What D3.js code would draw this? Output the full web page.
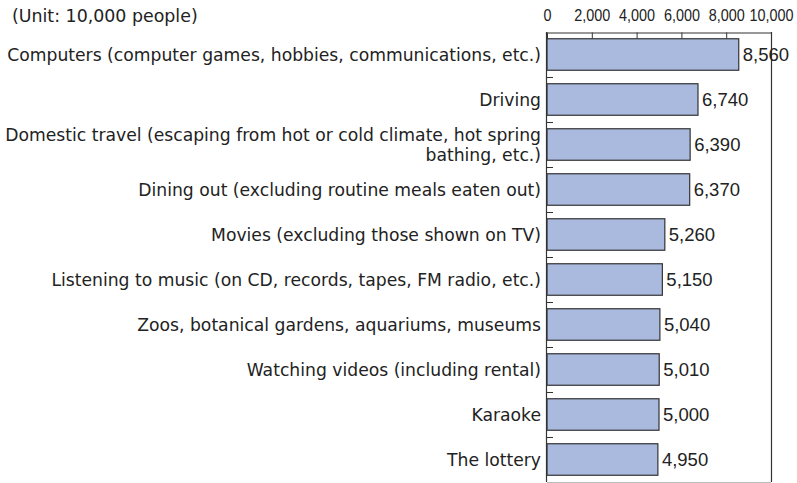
<!DOCTYPE html>
<html>
<head>
<meta charset="utf-8">
<script src="https://cdn.jsdelivr.net/npm/d3@7"></script>
<style>
  body { margin: 0; background: #fff; }
  svg { display: block; font-family: "Liberation Sans", Arial, sans-serif; }
</style>
</head>
<body>
<svg id="chart"></svg>
<script>
// categories (line breaks marked with |)
const categories = [
  "Computers (computer games, hobbies, communications, etc.)",
  "Driving",
  "Domestic travel (escaping from hot or cold climate, hot spring|bathing, etc.)",
  "Dining out (excluding routine meals eaten out)",
  "Movies (excluding those shown on TV)",
  "Listening to music (on CD, records, tapes, FM radio, etc.)",
  "Zoos, botanical gardens, aquariums, museums",
  "Watching videos (including rental)",
  "Karaoke",
  "The lottery"
]
const values = [8560, 6740, 6390, 6370, 5260, 5150, 5040, 5010, 5000, 4950]
const tickValues = [0, 2000, 4000, 6000, 8000, 10000]
const unitLabel = "(Unit: 10,000 people)"

const width = 797, height = 483
const margin = { top: 32, right: 26, bottom: 1, left: 547 }

const svg = d3.select("#chart").attr("width", width).attr("height", height)

const x = d3.scaleLinear()
  .domain([0, 10000])
  .range([margin.left, width - margin.right])

const y = d3.scaleBand()
  .domain(categories)
  .range([margin.top, height - margin.bottom])
  .paddingInner(0.3)
  .paddingOuter(0.15)

const fmt = d3.format(",")
const labelFont = "'DejaVu Sans', Verdana, sans-serif"

svg.append("text")
  .attr("x", 12)
  .attr("y", 22)
  .attr("font-family", labelFont)
  .attr("font-size", 17.4)
  .attr("fill", "#222")
  .text(unitLabel)

// frame: bottom, right
svg.append("line")
  .attr("x1", x(0)).attr("x2", x(10000))
  .attr("y1", height - margin.bottom + 0.5).attr("y2", height - margin.bottom + 0.5)
  .attr("stroke", "#bbb")
svg.append("line")
  .attr("x1", x(10000) + 0.5).attr("x2", x(10000) + 0.5)
  .attr("y1", margin.top).attr("y2", height - margin.bottom)
  .attr("stroke", "#333").attr("stroke-width", 1.2)

// bars
svg.append("g")
  .selectAll("rect")
  .data(values)
  .join("rect")
    .attr("x", x(0))
    .attr("y", (d, i) => y(categories[i]))
    .attr("width", d => x(d) - x(0))
    .attr("height", y.bandwidth())
    .attr("fill", "#aab9de")
    .attr("stroke", "#333")
    .attr("stroke-width", 1.2)

// value labels
svg.append("g")
  .selectAll("text")
  .data(values)
  .join("text")
    .attr("x", d => x(d) + 4)
    .attr("y", (d, i) => y(categories[i]) + y.bandwidth() / 2)
    .attr("dy", "0.36em")
    .attr("font-size", 18.5)
    .attr("fill", "#222")
    .text(d => fmt(d))

// category labels
const labels = svg.append("g")
  .selectAll("text")
  .data(categories)
  .join("text")
    .attr("text-anchor", "end")
    .attr("font-family", labelFont)
    .attr("font-size", 17.2)
    .attr("fill", "#222")
    .attr("y", d => y(d) + y.bandwidth() / 2)

labels.each(function (d) {
  const lines = d.split("|")
  const t = d3.select(this)
  lines.forEach((line, i) => {
    t.append("tspan")
      .attr("x", 541)
      .attr("dy", i === 0 ? `${0.36 - (lines.length - 1) * 0.58}em` : "1.16em")
      .text(line)
  })
})

// left axis with ticks at band boundaries
const gap = (y.step() - y.bandwidth()) / 2
svg.append("line")
  .attr("x1", x(0) - 0.5).attr("x2", x(0) - 0.5)
  .attr("y1", margin.top).attr("y2", height - margin.bottom)
  .attr("stroke", "#333").attr("stroke-width", 1.2)
svg.append("g")
  .selectAll("line")
  .data(categories.slice(1))
  .join("line")
    .attr("x1", x(0)).attr("x2", x(0) + 6)
    .attr("y1", d => Math.round(y(d) - gap) + 0.5)
    .attr("y2", d => Math.round(y(d) - gap) + 0.5)
    .attr("stroke", "#333")

// top axis
const xAxis = svg.append("g")
  .attr("transform", `translate(0,${margin.top + 0.5})`)
  .call(d3.axisTop(x).tickValues(tickValues).tickFormat(fmt).tickSizeInner(-6).tickSizeOuter(0).tickPadding(12))
xAxis.select(".domain").attr("stroke", "#333").attr("stroke-width", 1.2)
xAxis.selectAll(".tick line").attr("stroke", "#333")
xAxis.selectAll(".tick text")
  .attr("font-family", "'Liberation Sans', Arial, sans-serif")
  .attr("font-size", 16)
  .attr("fill", "#222")
  .attr("transform", "scale(0.9,1)")
</script>
</body>
</html>
